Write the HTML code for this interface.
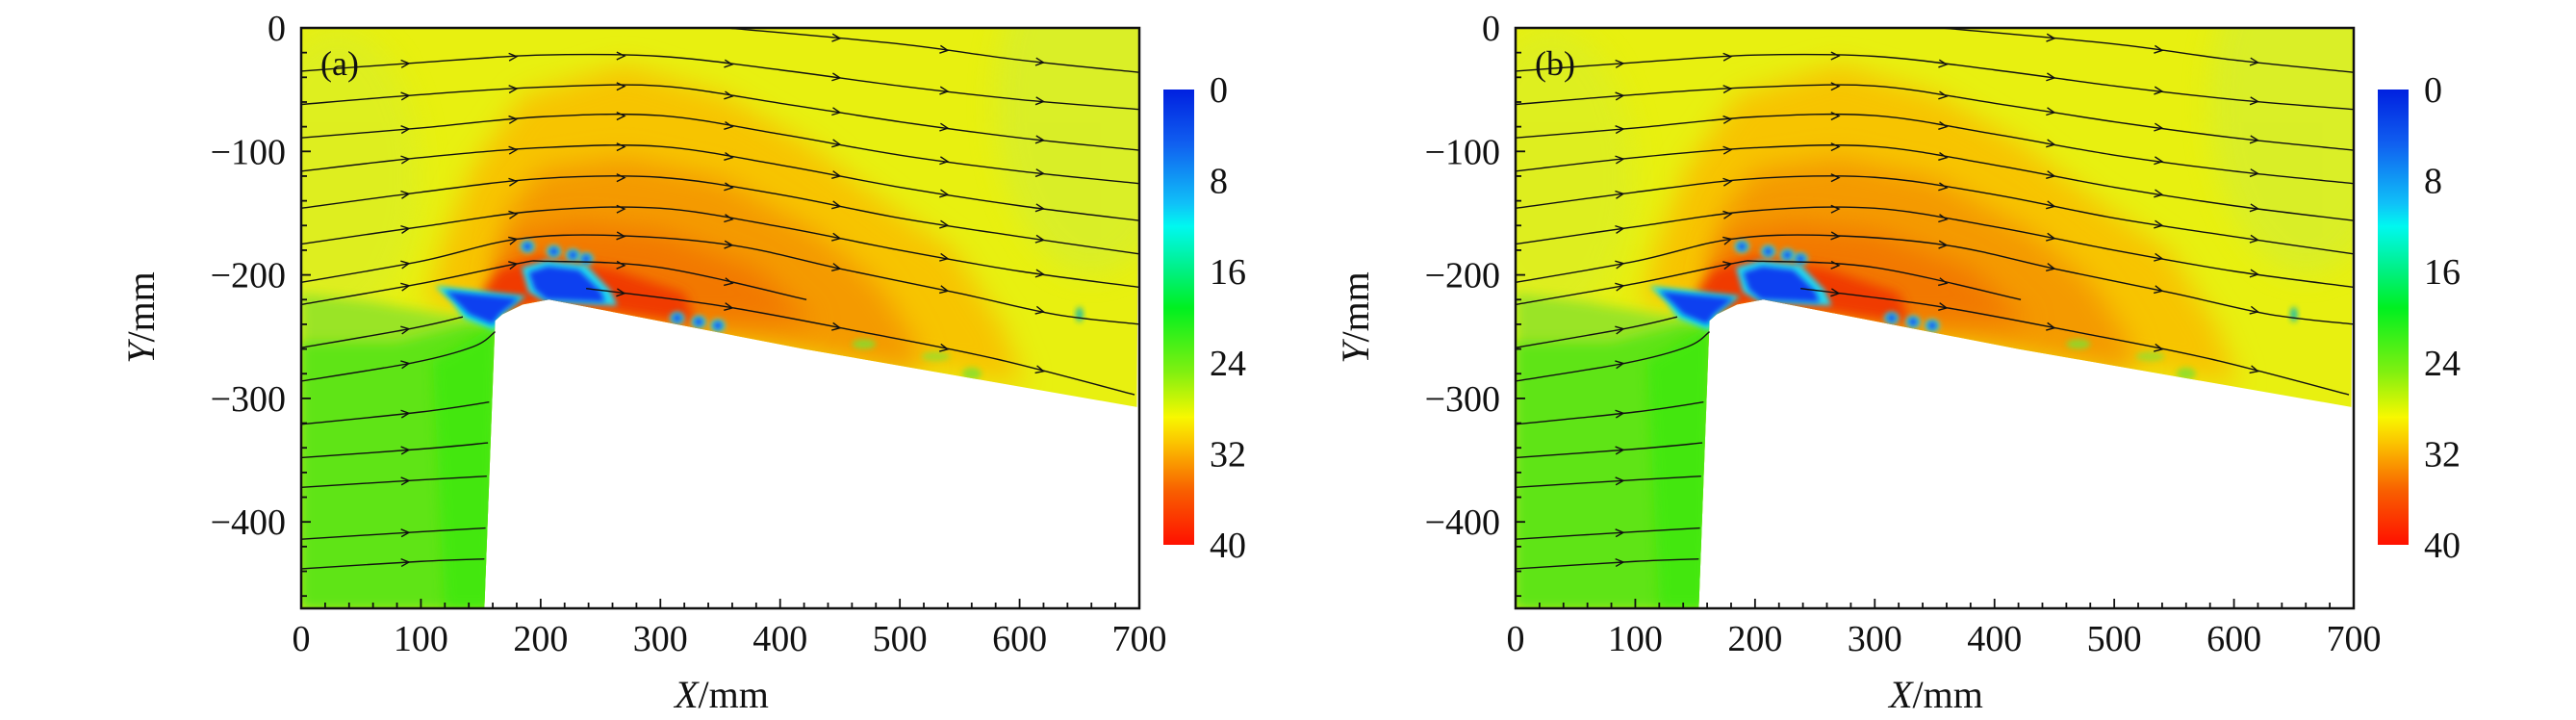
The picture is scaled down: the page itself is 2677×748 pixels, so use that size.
<!DOCTYPE html>
<html><head><meta charset="utf-8"><style>
html,body{margin:0;padding:0;background:#fff;}
svg{display:block;font-family:"Liberation Serif",serif;}
</style></head><body>
<svg id="chart" width="2677" height="748" viewBox="0 0 2677 748" xmlns="http://www.w3.org/2000/svg">
<defs>
<filter id="blur1" x="-50%" y="-50%" width="200%" height="200%"><feGaussianBlur stdDeviation="14"/></filter>
<filter id="blur2" x="-50%" y="-50%" width="200%" height="200%"><feGaussianBlur stdDeviation="6"/></filter>
<filter id="blur3" x="-50%" y="-50%" width="200%" height="200%"><feGaussianBlur stdDeviation="3"/></filter>
<linearGradient id="cbgrad" x1="0" y1="0" x2="0" y2="1">
<stop offset="0" stop-color="#0020e0"/><stop offset="0.12" stop-color="#1060f0"/>
<stop offset="0.25" stop-color="#10c0f8"/><stop offset="0.3" stop-color="#00f8f0"/>
<stop offset="0.4" stop-color="#00f080"/><stop offset="0.48" stop-color="#00f020"/>
<stop offset="0.62" stop-color="#80f010"/><stop offset="0.72" stop-color="#f8f800"/>
<stop offset="0.78" stop-color="#fbc000"/><stop offset="0.88" stop-color="#f86000"/>
<stop offset="1" stop-color="#ff1000"/></linearGradient>
</defs>
<g id="panels"></g>
</svg>
<script>
// Data arrays
const xTicks = [0,100,200,300,400,500,600,700];
const yTicks = [0,-100,-200,-300,-400];
const cbTicks = [0,8,16,24,32,40];
const bodyOutline = [[698,-307],[420,-260],[207,-220],[185,-224],[168,-232],[162,-237],[153,-470]];
const line0 = [[356,0],[500,-13],[600,-26],[700,-36]];
const line1 = [[0,-35],[100,-28],[200,-22],[300,-23],[400,-34],[500,-47],[600,-58],[700,-66]];
const line2 = [[0,-62],[100,-54],[200,-48],[300,-47],[400,-61],[500,-76],[600,-89],[700,-99]];
const line3 = [[0,-89],[100,-81],[200,-72],[300,-71],[400,-86],[500,-103],[600,-116],[700,-126]];
const line4 = [[0,-116],[100,-105],[200,-97],[300,-96],[400,-111],[500,-129],[600,-144],[700,-156]];
const line5 = [[0,-146],[100,-133],[200,-122],[300,-121],[400,-135],[500,-154],[600,-169],[700,-183]];
const line6 = [[0,-175],[100,-161],[200,-148],[300,-146],[400,-161],[500,-180],[600,-197],[700,-210]];
const line7 = [[0,-206],[100,-189],[180,-171],[260,-168],[360,-176],[450,-195],[550,-215],[630,-232],[700,-240]];
const line8 = [[0,-224],[100,-207],[180,-191],[207,-189],[300,-194],[422,-220]];
const line9 = [[238,-211],[350,-225],[467,-246],[580,-268],[696,-297]];
const line10 = [[0,-259],[94,-243],[135,-234]];
const line11 = [[0,-286],[94,-271],[144,-258],[162,-246]];
const line12 = [[0,-321],[100,-311],[157,-303]];
const line13 = [[0,-348],[100,-341],[156,-336]];
const line14 = [[0,-372],[100,-366],[155,-363]];
const line15 = [[0,-414],[100,-408],[154,-405]];
const line16 = [[0,-438],[100,-432],[153,-430]];
const streamlines = [line0,line1,line2,line3,line4,line5,line6,line7,line8,line9,line10,line11,line12,line13,line14,line15,line16];
const arrowXs = [90,180,270,360,450,540,620];

const NS="http://www.w3.org/2000/svg";
const root=document.getElementById('panels');
function mk(tag,attrs,parent){const e=document.createElementNS(NS,tag);for(const k in attrs)e.setAttribute(k,attrs[k]);(parent||root).appendChild(e);return e;}

function drawPanel(off,label,idx){
  const L=313+off,R=1184+off,T=29,B=632;
  const sx=v=>L+(v/700)*(R-L);
  const sy=v=>T+(-v/470)*(B-T);
  const poly=(pts)=>'M'+pts.map(p=>sx(p[0])+','+sy(p[1])).join(' L')+' Z';
  const g=mk('g',{});
  
  
  const cp=mk('clipPath',{id:'dom'+idx},g);
  let d='M'+sx(0)+','+sy(0)+' L'+sx(700)+','+sy(0);
  bodyOutline.forEach(p=>{d+=' L'+sx(p[0])+','+sy(p[1]);});
  d+=' L'+sx(0)+','+sy(-470)+' Z';
  mk('path',{d:d},cp);
  const field=mk('g',{'clip-path':'url(#dom'+idx+')'},g);
  
  
  mk('rect',{x:L,y:T,width:R-L,height:B-T,fill:'#e8f010'},field);
  const P=(pts,col,f,op)=>mk('path',{d:poly(pts),fill:col,filter:'url(#'+f+')',opacity:op||1},field);
  const E=(cx,cy,rx,ry,col,f,op)=>mk('ellipse',{cx:sx(cx),cy:sy(cy),rx:rx*1.244,ry:ry*1.2825,fill:col,filter:'url(#'+f+')',opacity:op||1},field);
  E(660,-60,80,140,'#d4ee30','blur1',0.7);
  E(30,-120,70,120,'#d8ee2a','blur1',0.6);
  P([[105,-225],[120,-170],[145,-110],[185,-55],[270,-30],[355,-55],[425,-95],[485,-140],[545,-180],[585,-240],[605,-290],[200,-225]],'#f7c400','blur1');
  P([[165,-200],[172,-150],[200,-115],[270,-105],[350,-122],[430,-165],[480,-205],[510,-250],[520,-280],[205,-222]],'#f49a00','blur1');
  P([[160,-205],[175,-170],[230,-158],[300,-165],[380,-195],[430,-240],[300,-240],[205,-222]],'#f27800','blur1');
  P([[150,-215],[165,-195],[200,-186],[260,-195],[320,-215],[330,-240],[205,-222],[170,-232]],'#f03a00','blur2');
  P([[0,-215],[60,-222],[120,-232],[162,-236],[160,-470],[0,-470]],'#9ae426','blur2');
  P([[0,-255],[80,-255],[140,-240],[164,-245],[160,-470],[0,-470]],'#5ee416','blur2');
  P([[110,-270],[164,-240],[160,-470],[120,-470]],'#3ee810','blur2',0.8);
  E(470,-256,10,4,'#80e030','blur3',0.8);E(530,-266,12,4,'#90e030','blur3',0.7);E(560,-280,8,5,'#80e030','blur3',0.8);
  E(650,-232,3,6,'#20c0a0','blur3');
  P([[112,-209],[150,-213],[188,-217],[168,-232],[162,-245],[136,-235],[126,-222]],'#10e0f0','blur3');
  P([[120,-213],[150,-216],[182,-219],[166,-232],[160,-240],[140,-232],[130,-222]],'#1040f0','blur3');
  P([[184,-194],[205,-188],[238,-192],[258,-212],[264,-225],[205,-222],[190,-214]],'#20d8f0','blur3');
  P([[190,-198],[206,-193],[232,-196],[250,-213],[254,-222],[205,-220],[195,-212]],'#1040f0','blur3');
  [[189,-177],[211,-181],[227,-184],[238,-187],[314,-235],[332,-238],[348,-241]].forEach(c=>{
    E(c[0],c[1],6,5,'#30e0e0','blur3');E(c[0],c[1],3.5,3,'#1040f0','blur3');});
  const sg=mk('g',{fill:'none',stroke:'#111','stroke-width':1.4},g);
  
  
  streamlines.forEach((ln,i)=>{
    const pts=ln.map(p=>[sx(p[0]),sy(p[1])]);
    let pd='M'+pts[0][0]+','+pts[0][1];
    for(let k=0;k<pts.length-1;k++){
      const p0=pts[Math.max(0,k-1)],p1=pts[k],p2=pts[k+1],p3=pts[Math.min(pts.length-1,k+2)];
      const c1=[p1[0]+(p2[0]-p0[0])/6,p1[1]+(p2[1]-p0[1])/6];
      const c2=[p2[0]-(p3[0]-p1[0])/6,p2[1]-(p3[1]-p1[1])/6];
      pd+=' C'+c1[0]+','+c1[1]+' '+c2[0]+','+c2[1]+' '+p2[0]+','+p2[1];
    }
    const path=mk('path',{d:pd},sg);
    
    
    arrowXs.forEach(ax=>{
      if(ax<=ln[0][0]+10||ax>=ln[ln.length-1][0]-10)return;
      let k=0;while(k<ln.length-2&&ln[k+1][0]<ax)k++;
      const a=ln[k],b=ln[k+1],t=(ax-a[0])/(b[0]-a[0]);
      const py=a[1]+t*(b[1]-a[1]);
      const X=sx(ax),Y=sy(py);
      const ang=Math.atan2(sy(b[1])-sy(a[1]),sx(b[0])-sx(a[0]));
      const s=9,w=0.45;
      const p1=[X-s*Math.cos(ang-w),Y-s*Math.sin(ang-w)],p2=[X-s*Math.cos(ang+w),Y-s*Math.sin(ang+w)];
      const ar=mk('path',{d:'M'+p1[0]+','+p1[1]+' L'+X+','+Y+' L'+p2[0]+','+p2[1]},sg);
      
      
    });
  });
  const fr=mk('rect',{x:L,y:T,width:R-L,height:B-T,fill:'none',stroke:'#111','stroke-width':2.5},g);
  
  
  const tk=mk('g',{stroke:'#111','stroke-width':1.8},g);
  
  
  for(let v=0;v<=700;v+=20){const x=sx(v),len=(v%100===0)?10:6;mk('line',{x1:x,y1:B,x2:x,y2:B-len},tk);}
  for(let v=0;v>=-460;v-=20){const y=sy(v),len=(v%100===0)?10:6;mk('line',{x1:L,y1:y,x2:L+len,y2:y},tk);}
  xTicks.forEach(v=>{const t=mk('text',{x:sx(v),y:676,'font-size':38,'text-anchor':'middle',fill:'#111'},g);t.textContent=v;
    });
  yTicks.forEach(v=>{const t=mk('text',{x:297+off,y:sy(v)+13,'font-size':38,'text-anchor':'end',fill:'#111'},g);t.textContent=v===0?'0':'\u2212'+(-v);
    });
  const xl=mk('text',{x:750+off,y:735,'font-size':40,'text-anchor':'middle',fill:'#111'},g);
  xl.innerHTML='<tspan font-style="italic">X</tspan>/mm';
  
  const yl=mk('text',{x:0,y:0,'font-size':40,'text-anchor':'middle',fill:'#111',transform:'translate('+(160+off)+',330) rotate(-90)'},g);
  yl.innerHTML='<tspan font-style="italic">Y</tspan>/mm';
  
  const pl=mk('text',{x:333+off,y:78,'font-size':36,fill:'#111'},g);pl.textContent='('+label+')';
  
  const cT=93,cB=566,cL=1209+off,cW=32;
  const cb=mk('rect',{x:cL,y:cT,width:cW,height:cB-cT,fill:'url(#cbgrad)'},g);
  
  cbTicks.forEach(v=>{const t=mk('text',{x:cL+48,y:cT+(v/40)*(cB-cT)+13,'font-size':38,fill:'#111'},g);t.textContent=v;
    });
}
drawPanel(0,'a',0);
drawPanel(1262,'b',1);
</script>
</body></html>
